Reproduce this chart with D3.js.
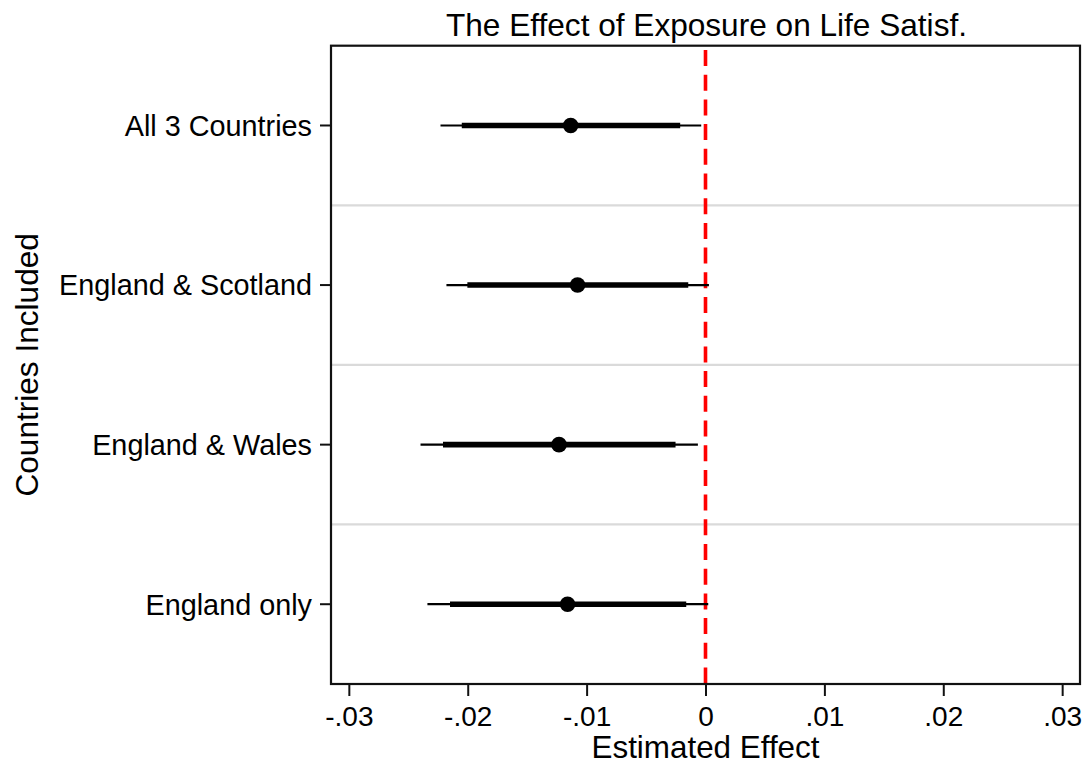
<!DOCTYPE html>
<html>
<head>
<meta charset="utf-8">
<script src="https://cdn.jsdelivr.net/npm/d3@7"></script>
<style>
  html, body { margin: 0; padding: 0; background: #ffffff; }
  svg { display: block; }
  text { font-family: "Liberation Sans", Arial, Helvetica, sans-serif; fill: #000; }
</style>
</head>
<body>
<script>
// Coefficient plot: estimated effect per country sample, with 90% (thick) and 95% (thin) intervals
const categories = ["All 3 Countries", "England & Scotland", "England & Wales", "England only"];
const estimates  = [-0.01134, -0.01076, -0.01232, -0.01160];
const ci90Low    = [-0.02050, -0.02003, -0.02208, -0.02149];
const ci90High   = [-0.00213, -0.00145, -0.00252, -0.00162];
const ci95Low    = [-0.02229, -0.02179, -0.02397, -0.02339];
const ci95High   = [-0.00036,  0.00029, -0.00064,  0.00023];
const xTickValues = [-0.03, -0.02, -0.01, 0, 0.01, 0.02, 0.03];
const xTickLabels = ["-.03", "-.02", "-.01", "0", ".01", ".02", ".03"];
const referenceValue = [0];

const titleText = "The Effect of Exposure on Life Satisf.";
const xTitleText = "Estimated Effect";
const yTitleText = "Countries Included";

const W = 1088, H = 767;
const plot = { left: 331, right: 1080, top: 45.7, bottom: 684 };

const rows = categories.map((c, i) => ({
  cat: c, est: estimates[i],
  lo90: ci90Low[i], hi90: ci90High[i],
  lo95: ci95Low[i], hi95: ci95High[i]
}));

const svg = d3.select("body").append("svg")
  .attr("width", W).attr("height", H);

const x = d3.scaleLinear().domain([-0.0315, 0.0315]).range([plot.left, plot.right]);
const y = d3.scaleBand().domain(categories).range([plot.top, plot.bottom]);
const yc = c => y(c) + y.bandwidth() / 2;

// separators between the category bands
const bounds = categories.slice(1).map(c => y(c));
svg.append("g").selectAll("line").data(bounds).join("line")
  .attr("x1", plot.left).attr("x2", plot.right)
  .attr("y1", d => d).attr("y2", d => d)
  .attr("stroke", "#dadada").attr("stroke-width", 2.2);

// zero reference line
svg.append("g").selectAll("line").data(referenceValue).join("line")
  .attr("x1", d => x(d)).attr("x2", d => x(d))
  .attr("y1", plot.top).attr("y2", plot.bottom)
  .attr("stroke", "#ff0000").attr("stroke-width", 3.6)
  .attr("stroke-dasharray", "16,8.7").attr("stroke-dashoffset", 20.4);

// intervals and point estimates
const marks = svg.append("g");
marks.selectAll("line.ci95").data(rows).join("line")
  .attr("class", "ci95")
  .attr("x1", d => x(d.lo95)).attr("x2", d => x(d.hi95))
  .attr("y1", d => yc(d.cat)).attr("y2", d => yc(d.cat))
  .attr("stroke", "#000").attr("stroke-width", 2.2);
marks.selectAll("line.ci90").data(rows).join("line")
  .attr("class", "ci90")
  .attr("x1", d => x(d.lo90)).attr("x2", d => x(d.hi90))
  .attr("y1", d => yc(d.cat)).attr("y2", d => yc(d.cat))
  .attr("stroke", "#000").attr("stroke-width", 5.6);
marks.selectAll("circle").data(rows).join("circle")
  .attr("cx", d => x(d.est)).attr("cy", d => yc(d.cat))
  .attr("r", 7.8).attr("fill", "#000");

// plot frame
svg.append("rect")
  .attr("x", plot.left).attr("y", plot.top)
  .attr("width", plot.right - plot.left).attr("height", plot.bottom - plot.top)
  .attr("fill", "none").attr("stroke", "#111").attr("stroke-width", 2.2);

// x axis
const xAxis = d3.axisBottom(x)
  .tickValues(xTickValues)
  .tickFormat((d, i) => xTickLabels[i])
  .tickSize(12).tickPadding(10);
const gx = svg.append("g").attr("transform", `translate(0,${plot.bottom})`).call(xAxis);
gx.select(".domain").remove();
gx.selectAll(".tick line").attr("stroke", "#111").attr("stroke-width", 2);
gx.selectAll(".tick text")
  .attr("font-size", 28).attr("dy", "0.71em")
  .style("font-family", '"Liberation Sans", Arial, sans-serif').attr("fill", "#000");

// y axis
const yAxis = d3.axisLeft(y).tickSize(11).tickPadding(8);
const gy = svg.append("g").attr("transform", `translate(${plot.left},0)`).call(yAxis);
gy.select(".domain").remove();
gy.selectAll(".tick line").attr("stroke", "#111").attr("stroke-width", 2);
gy.selectAll(".tick text")
  .attr("font-size", 28.8).attr("dy", "0.36em")
  .style("font-family", '"Liberation Sans", Arial, sans-serif').attr("fill", "#000");

// titles
svg.append("text")
  .attr("x", (plot.left + plot.right) / 2 + 1).attr("y", 36)
  .attr("text-anchor", "middle").attr("font-size", 31.6)
  .text(titleText);

svg.append("text")
  .attr("x", (plot.left + plot.right) / 2).attr("y", 758)
  .attr("text-anchor", "middle").attr("font-size", 31.4)
  .text(xTitleText);

svg.append("text")
  .attr("transform", `translate(38,${(plot.top + plot.bottom) / 2}) rotate(-90)`)
  .attr("text-anchor", "middle").attr("font-size", 31.6)
  .text(yTitleText);
</script>
</body>
</html>
